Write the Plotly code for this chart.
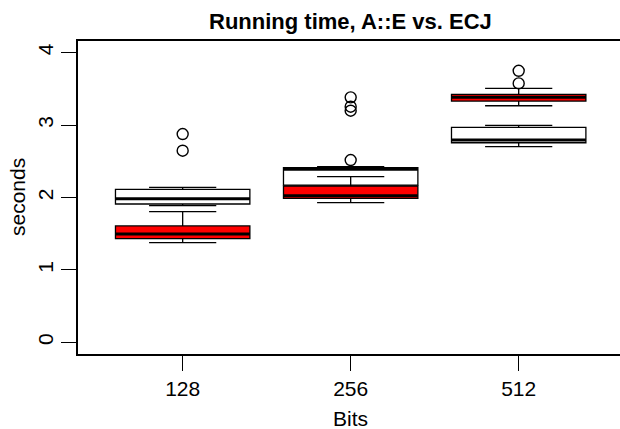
import plotly.graph_objects as go

# ---- data ----
bits = ["128", "256", "512"]
pos = [1, 2, 3]

# ECJ (white boxes)
ecj_low = [1.887, 2.05, 2.701]
ecj_q1 = [1.910, 2.170, 2.756]
ecj_med = [1.984, 2.389, 2.793]
ecj_q3 = [2.113, 2.411, 2.968]
ecj_high = [2.141, 2.425, 2.996]
ecj_out_x = [1, 1, 2, 2, 2, 2]
ecj_out_y = [2.876, 2.646, 3.382, 3.253, 3.198, 2.517]

# A::E (red boxes)
ae_low = [1.377, 1.928, 3.266]
ae_q1 = [1.432, 1.989, 3.331]
ae_med = [1.497, 2.025, 3.382]
ae_q3 = [1.607, 2.159, 3.423]
ae_high = [1.805, 2.287, 3.506]
ae_out_x = [3, 3]
ae_out_y = [3.749, 3.575]

y_ticks = [0, 1, 2, 3, 4]

FONT = "Liberation Sans, Arial, Helvetica, sans-serif"
BOXW = 0.8

fig = go.Figure()


def add_box(name, low, q1, med, q3, high, fill):
    fig.add_trace(go.Box(
        name=name, x=pos, q1=q1, median=med, q3=q3,
        lowerfence=low, upperfence=high,
        width=BOXW, whiskerwidth=0.5, boxpoints=False,
        fillcolor=fill, line=dict(color="black", width=1.3),
        hoverinfo="skip", showlegend=False,
    ))


def median_line(med):
    xs, ys = [], []
    for p, m in zip(pos, med):
        xs += [p - BOXW / 2, p + BOXW / 2, None]
        ys += [m, m, None]
    fig.add_trace(go.Scatter(x=xs, y=ys, mode="lines",
                             line=dict(color="black", width=3),
                             hoverinfo="skip", showlegend=False))


def outliers(xs, ys):
    fig.add_trace(go.Scatter(x=xs, y=ys, mode="markers",
                             marker=dict(symbol="circle-open", size=11,
                                         color="black",
                                         line=dict(width=1.4, color="black")),
                             hoverinfo="skip", showlegend=False))


add_box("ECJ", ecj_low, ecj_q1, ecj_med, ecj_q3, ecj_high, "white")
add_box("A::E", ae_low, ae_q1, ae_med, ae_q3, ae_high, "#FF0000")
median_line(ecj_med)
median_line(ae_med)
outliers(ecj_out_x, ecj_out_y)
outliers(ae_out_x, ae_out_y)

fig.update_layout(
    width=620, height=429,
    margin=dict(l=78, r=0, t=41, b=75),
    paper_bgcolor="white", plot_bgcolor="white",
    boxmode="overlay",
    font=dict(family=FONT, size=21, color="black"),
    showlegend=False,
    xaxis=dict(range=[0.377, 3.603], tickvals=pos, ticktext=bits,
               showgrid=False, zeroline=False,
               showline=True, mirror=True, linecolor="black", linewidth=1.5,
               ticks="outside", ticklen=15, tickwidth=1.3, tickcolor="black",
               tickfont=dict(family=FONT, size=21)),
    yaxis=dict(range=[-0.16, 4.16], tickvals=y_ticks,
               showgrid=False, zeroline=False,
               showline=True, mirror=False, linecolor="black", linewidth=1.5,
               ticks="outside", ticklen=15, tickwidth=1.3, tickcolor="black",
               tickangle=-90, tickfont=dict(family=FONT, size=21)),
    annotations=[
        dict(text="<b>Running time, A::E vs. ECJ</b>", xref="x", yref="paper",
             x=2, y=(354 - 21) / 313, xanchor="center", yanchor="middle",
             showarrow=False, font=dict(family=FONT, size=22)),
        dict(text="Bits", xref="x", yref="paper",
             x=2, y=(354 - 418) / 313, xanchor="center", yanchor="middle",
             showarrow=False, font=dict(family=FONT, size=21)),
        dict(text="seconds", xref="paper", yref="paper",
             x=(17 - 78) / 542, y=(354 - 197) / 313, xanchor="center",
             yanchor="middle", textangle=-90,
             showarrow=False, font=dict(family=FONT, size=21)),
    ],
)

fig.write_html("out.html")
